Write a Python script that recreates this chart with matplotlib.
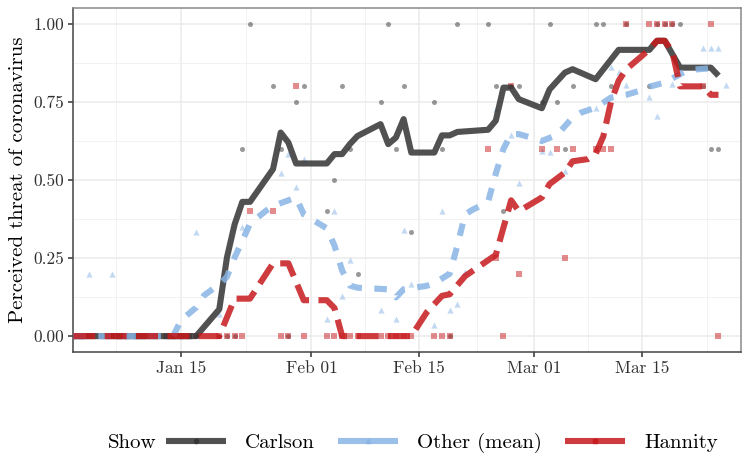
import matplotlib
matplotlib.use("Agg")

import matplotlib.pyplot as plt
import matplotlib.dates as mdates
from matplotlib.lines import Line2D
from matplotlib.ticker import FixedLocator
import pandas as pd

plt.rcParams["font.family"] = ["cmr10", "DejaVu Serif"]
plt.rcParams["axes.formatter.use_mathtext"] = True
plt.rcParams["lines.scale_dashes"] = False

START = pd.Timestamp("2020-01-01")

# daily scores per show (day offset from Jan 1, score)
carlson_pt_day = [0, 1, 2, 5, 6, 7, 8, 9, 12, 13, 14, 15, 16, 19, 20, 21, 22, 23, 26, 27, 28, 29, 30,
                  33, 34, 35, 36, 37, 40, 41, 42, 43, 44, 47, 48, 49, 50, 54, 55, 56, 57, 58, 61,
                  62, 63, 64, 65, 68, 69, 70, 72, 75, 76, 77, 78, 79, 82, 83, 84]
carlson_pt_val = [0, 0, 0, 0, 0, 0, 0, 0, 0, 0, 0, 0, 0, 0, 0, 0, 0.6, 1.0, 0.8, 0.6, 0, 0.75, 0.8,
                  0.4, 0.5, 0.8, 0.6, 0.2, 0.75, 1.0, 0.6, 0.8, 0.333, 0.75, 0.6, 0, 1.0, 1.0, 0.8, 0.4, 0.8, 0.8, 0.75,
                  1.0, 0.75, 0.6, 0.8, 1.0, 1.0, 0.8, 1.0, 0.8, 1.0, 1.0, 1.0, 1.0, 0.8, 0.6, 0.6]

other_pt_day = [0, 1, 2, 5, 6, 7, 8, 9, 12, 13, 14, 15, 16, 19, 22, 27, 28, 29, 30, 33, 34, 35, 36,
                40, 42, 43, 44, 47, 48, 49, 50, 51, 55, 57, 58, 61, 62, 64, 68, 69, 70, 71, 72,
                75, 76, 78, 82, 83, 84, 85]
other_pt_val = [0, 0, 0.2, 0.2, 0, 0, 0, 0, 0, 0, 0, 0, 0.333, 0.07, 0.35, 0.523, 0.583, 0.477, 0.567, 0.054, 0.402, 0.13, 0.244,
                0.083, 0.054, 0.341, 0.168, 0.037, 0.402, 0.083, 0.104, 0.204, 0.727, 0.643, 0.49, 0.593, 0.59, 0.529, 0.73, 0.643, 0.861, 0.845, 0.803,
                0.765, 0.705, 0.809, 0.923, 0.923, 0.923, 0.803]

hannity_pt_day = [0, 1, 2, 5, 6, 7, 8, 9, 12, 13, 14, 15, 16, 19, 20, 21, 22, 23, 26, 27, 28, 29, 30,
                  33, 34, 35, 36, 37, 40, 41, 42, 43, 44, 47, 48, 49, 54, 55, 56, 57, 58, 61, 63,
                  64, 65, 68, 69, 70, 72, 75, 76, 77, 78, 82, 83, 84]
hannity_pt_val = [0, 0, 0, 0, 0, 0, 0, 0, 0, 0, 0, 0, 0, 0, 0, 0, 0, 0.4, 0.4, 0, 0, 0.8, 0,
                  0, 0, 0, 0, 0, 0, 0, 0, 0, 0, 0, 0, 0, 0.6, 0.25, 0, 0.8, 0.2, 0.6, 0.6,
                  0.25, 0.6, 0.6, 0.6, 0.6, 1.0, 1.0, 1.0, 1.0, 1.0, 0.8, 1.0, 0]

# smoothed trend per show
carlson_day = [0, 16, 19, 20, 21, 22, 23, 26, 27, 28, 29, 33, 34, 35, 36, 37, 40, 41, 42, 43, 44,
               47, 48, 49, 50, 54, 55, 56, 57, 58, 61, 62, 64, 65, 68, 71, 75, 76, 77, 79, 83, 84]
carlson_val = [0, 0, 0.086, 0.252, 0.358, 0.43, 0.43, 0.535, 0.652, 0.62, 0.553, 0.553, 0.583, 0.583,
               0.615, 0.641, 0.679, 0.615, 0.636, 0.695, 0.588, 0.588, 0.643, 0.643, 0.654, 0.661, 0.69,
               0.796, 0.796, 0.759, 0.73, 0.79, 0.844, 0.855, 0.823, 0.917, 0.917, 0.946, 0.946, 0.86,
               0.86, 0.834]

other_day = [0, 13, 14, 16, 17, 19, 20, 21, 22, 23, 25, 26, 28, 29, 30, 31, 33, 34, 35, 36, 37, 41,
             42, 43, 46, 47, 49, 50, 51, 52, 54, 55, 56, 57, 58, 60, 61, 63, 65, 66, 68, 69, 70, 72,
             74, 75, 77, 79, 80, 83, 84]
other_val = [0, 0, 0.05, 0.092, 0.13, 0.166, 0.19, 0.252, 0.305, 0.36, 0.40, 0.417, 0.435, 0.444,
             0.39, 0.375, 0.345, 0.29, 0.21, 0.162, 0.155, 0.15, 0.124, 0.15, 0.161, 0.169, 0.2, 0.29,
             0.39, 0.405, 0.43, 0.52, 0.6, 0.647, 0.647, 0.633, 0.625, 0.645, 0.70, 0.715, 0.732,
             0.748, 0.764, 0.773, 0.788, 0.799, 0.812, 0.839, 0.852, 0.858, 0.87]

hannity_day = [0, 19, 21, 23, 26, 28, 30, 33, 34, 35, 44, 46, 48, 49, 51, 55, 57, 58, 61, 62, 64,
               65, 67, 68, 69, 70, 71, 72, 74, 75, 76, 77, 78, 79, 82, 83, 84]
hannity_val = [0, 0, 0.12, 0.12, 0.233, 0.233, 0.115, 0.115, 0.09, 0, 0, 0.076, 0.129, 0.134, 0.192,
               0.26, 0.435, 0.40, 0.444, 0.487, 0.524, 0.56, 0.567, 0.583, 0.64, 0.75, 0.818, 0.855,
               0.897, 0.919, 0.946, 0.946, 0.91, 0.80, 0.80, 0.773, 0.773]

shows = ["Carlson", "Other (mean)", "Hannity"]
colors = {"Carlson": "#333333", "Other (mean)": "#88b4e4", "Hannity": "#c71a1d"}
markers = {"Carlson": "o", "Other (mean)": "^", "Hannity": "s"}
marker_size = {"Carlson": 13, "Other (mean)": 20, "Hannity": 13}
dashes = {"Carlson": None, "Other (mean)": (9, 9), "Hannity": (15.8, 6.8)}

points = {
    "Carlson": (carlson_pt_day, carlson_pt_val),
    "Other (mean)": (other_pt_day, other_pt_val),
    "Hannity": (hannity_pt_day, hannity_pt_val),
}
trends = {
    "Carlson": (carlson_day, carlson_val),
    "Other (mean)": (other_day, other_val),
    "Hannity": (hannity_day, hannity_val),
}


def to_dates(days):
    return START + pd.to_timedelta(days, unit="D")


fig = plt.figure(figsize=(7.43, 4.55), dpi=100)
ax = fig.add_axes([0.0987, 0.2270, 0.8983, 0.7547])

for show in shows:
    d, v = points[show]
    ax.scatter(to_dates(d), v, s=marker_size[show], marker=markers[show],
               color=colors[show], alpha=0.5, linewidths=0, zorder=2)

for show in shows:
    d, v = trends[show]
    line, = ax.plot(to_dates(d), v, color=colors[show], alpha=0.85, lw=4.4,
                    solid_capstyle="butt", dash_capstyle="butt", zorder=3)
    if dashes[show] is not None:
        line.set_dashes(dashes[show])

ax.set_xlim(START, START + pd.Timedelta(days=86.9))
ax.set_ylim(-0.05, 1.05)

major_x = to_dates([14, 31, 45, 60, 74])
ax.xaxis.set_major_locator(FixedLocator(mdates.date2num(major_x)))
ax.xaxis.set_minor_locator(FixedLocator(mdates.date2num(to_dates([5.5, 22.5, 38, 52.5, 67, 82.5]))))
ax.xaxis.set_major_formatter(mdates.DateFormatter("%b %d"))
ax.set_yticks([0, 0.25, 0.5, 0.75, 1.0])
ax.set_yticks([0.125, 0.375, 0.625, 0.875], minor=True)
ax.set_yticklabels(["0.00", "0.25", "0.50", "0.75", "1.00"])

ax.grid(which="major", color="#ebebeb", lw=1.1, zorder=0)
ax.grid(which="minor", color="#f0f0f0", lw=0.6, zorder=0)
ax.set_axisbelow(True)

ax.tick_params(which="major", length=3.5, width=1.1, color="#333333", labelsize=12.5,
               labelcolor="#303030", pad=3)
ax.tick_params(which="minor", length=0)
for side in ["left", "bottom"]:
    ax.spines[side].set_color("#444444")
    ax.spines[side].set_linewidth(1.1)
for side in ["top", "right"]:
    ax.spines[side].set_color("#8a8a8a")
    ax.spines[side].set_linewidth(1.1)

ax.set_ylabel("Perceived threat of coronavirus", fontsize=15, labelpad=5)

handles = [Line2D([], [], color=colors[s], alpha=0.85, lw=4.4, marker=markers[s],
                  markersize=3, solid_capstyle="butt") for s in shows]
fig.text(108 / 743, 1 - 443 / 455, "Show", fontsize=15, va="center", ha="left")
fig.legend(handles, shows, loc="center left", bbox_to_anchor=(166 / 743, 1 - 443 / 455),
           ncol=3, frameon=False, fontsize=15, handlelength=2.9, handletextpad=0.9,
           columnspacing=1.1, borderaxespad=0, borderpad=0)

fig.savefig("out.png", dpi=100)
